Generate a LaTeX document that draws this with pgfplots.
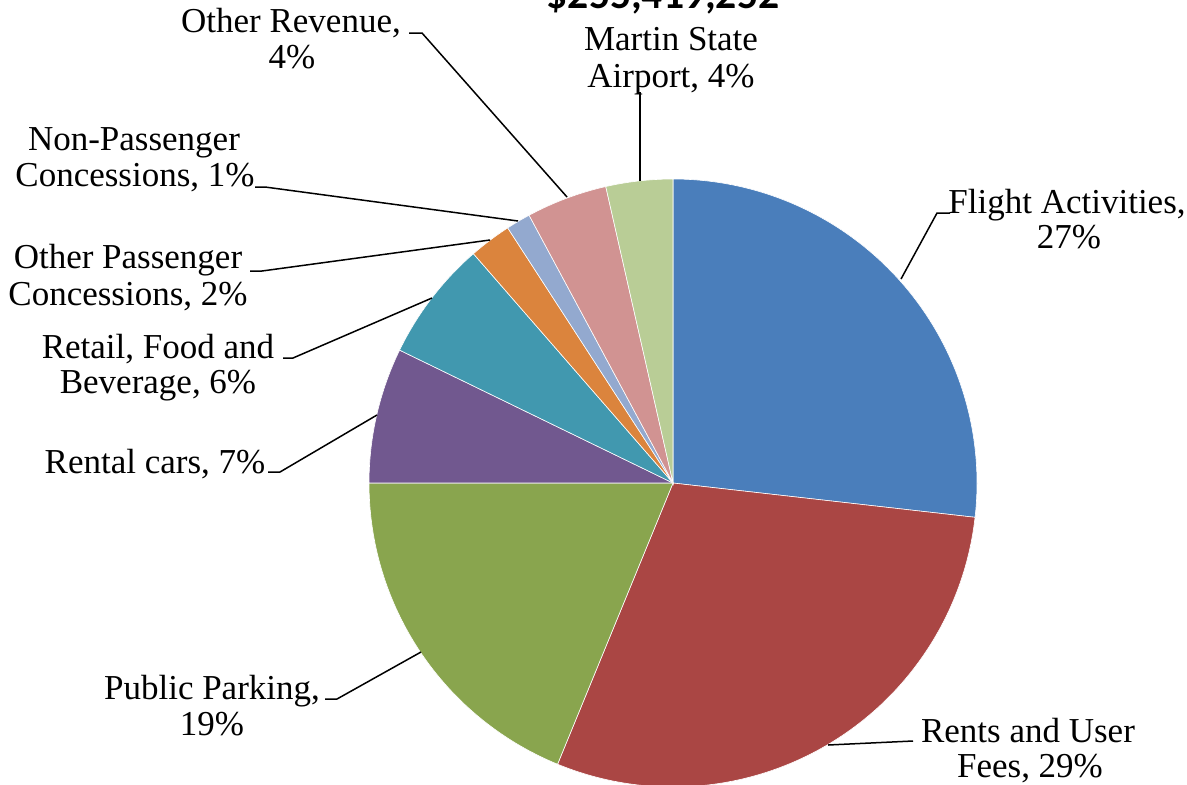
\documentclass[border=0pt]{standalone}
\usepackage{pgfplots}
\usepackage{pgfplotstable}
\pgfplotsset{compat=1.18}
\usepackage{fontspec}
\setmainfont{Liberation Serif}
\newfontfamily\titlefont{Carlito}

\definecolor{cFlight}{HTML}{4A7EBB}
\definecolor{cRents}{HTML}{AA4644}
\definecolor{cParking}{HTML}{89A54E}
\definecolor{cRental}{HTML}{71588F}
\definecolor{cRetail}{HTML}{4198AF}
\definecolor{cOtherPass}{HTML}{DB843D}
\definecolor{cNonPass}{HTML}{93A9CF}
\definecolor{cOtherRev}{HTML}{D19392}
\definecolor{cMartin}{HTML}{B9CD96}

% share of revenue in percent, clockwise from 12 o'clock
\pgfplotstableread{
share color
26.8  cFlight
29.4  cRents
18.8  cParking
7.2   cRental
6.4   cRetail
2.25  cOtherPass
1.3   cNonPass
4.3   cOtherRev
3.55  cMartin
}\piedata

% cumulative angles -> list of slices
\let\slice\relax
\def\cum{90}
\def\slices{}
\pgfplotsforeachungrouped \i in {0,...,8}{%
  \pgfplotstablegetelem{\i}{share}\of\piedata \let\sh\pgfplotsretval
  \pgfplotstablegetelem{\i}{color}\of\piedata \let\co\pgfplotsretval
  \pgfmathsetmacro\nxt{\cum-3.6*\sh}%
  \edef\slices{\slices\slice{\cum}{\nxt}{\co}}%
  \let\cum\nxt
}
\def\slice#1#2#3{\fill[#3,draw=white,line width=0.3pt] (axis cs:673,-483) -- ++(#1:152pt) arc[start angle=#1,end angle=#2,radius=152pt] -- cycle;}
\tikzset{lbl/.style={anchor=base, inner sep=0pt, font=\fontsize{17.5}{20}\selectfont},
  lead/.style={black, line width=0.75pt}}

\begin{document}
\begin{tikzpicture}
\begin{axis}[
    hide axis,
    scale only axis,
    width=593.5pt, height=392pt,
    xmin=0, xmax=1187, ymin=-784, ymax=0,
    clip=false,
  ]
  \coordinate (SW) at (axis cs:0,-784);
  \coordinate (NE) at (axis cs:1187,0);
  \slices

  % title (cut off at the top in the original)
  \node[anchor=base, inner sep=0pt, font=\titlefont\bfseries\fontsize{20.8}{24}\selectfont] at (axis cs:663,-8) {\$255,419,252};

  % leader lines
  \draw[lead] (axis cs:950,-213) -- (axis cs:937,-213) -- (axis cs:901,-279);
  \draw[lead] (axis cs:913,-741) -- (axis cs:828,-745);
  \draw[lead] (axis cs:325,-699) -- (axis cs:337,-699) -- (axis cs:421,-652);
  \draw[lead] (axis cs:268,-472) -- (axis cs:280,-472) -- (axis cs:377,-415);
  \draw[lead] (axis cs:283,-358) -- (axis cs:293,-358) -- (axis cs:432,-298);
  \draw[lead] (axis cs:250,-271) -- (axis cs:262,-271) -- (axis cs:490,-240);
  \draw[lead] (axis cs:255,-187) -- (axis cs:265,-187) -- (axis cs:518,-221);
  \draw[lead] (axis cs:409,-33) -- (axis cs:422,-33) -- (axis cs:567,-197);
  \draw[lead] (axis cs:640,-92) -- (axis cs:640,-181);

  % labels
  \node[lbl] at (axis cs:1067,-213) {Flight Activities,};
  \node[lbl] at (axis cs:1069,-248) {27\%};
  \node[lbl] at (axis cs:1028,-742) {Rents and User};
  \node[lbl] at (axis cs:1030,-777) {Fees, 29\%};
  \node[lbl] at (axis cs:212,-699) {Public Parking,};
  \node[lbl] at (axis cs:212,-735) {19\%};
  \node[lbl] at (axis cs:155,-473) {Rental cars, 7\%};
  \node[lbl] at (axis cs:158,-358) {Retail, Food and};
  \node[lbl] at (axis cs:158,-393) {Beverage, 6\%};
  \node[lbl] at (axis cs:128,-268) {Other Passenger};
  \node[lbl] at (axis cs:128,-305) {Concessions, 2\%};
  \node[lbl] at (axis cs:134,-150) {Non-Passenger};
  \node[lbl] at (axis cs:135,-186) {Concessions, 1\%};
  \node[lbl] at (axis cs:291,-32) {Other Revenue,};
  \node[lbl] at (axis cs:292,-68) {4\%};
  \node[lbl] at (axis cs:671,-50) {Martin State};
  \node[lbl] at (axis cs:671,-87) {Airport, 4\%};
\end{axis}
\pgfresetboundingbox
\useasboundingbox (SW) rectangle (NE);
\end{tikzpicture}
\end{document}
